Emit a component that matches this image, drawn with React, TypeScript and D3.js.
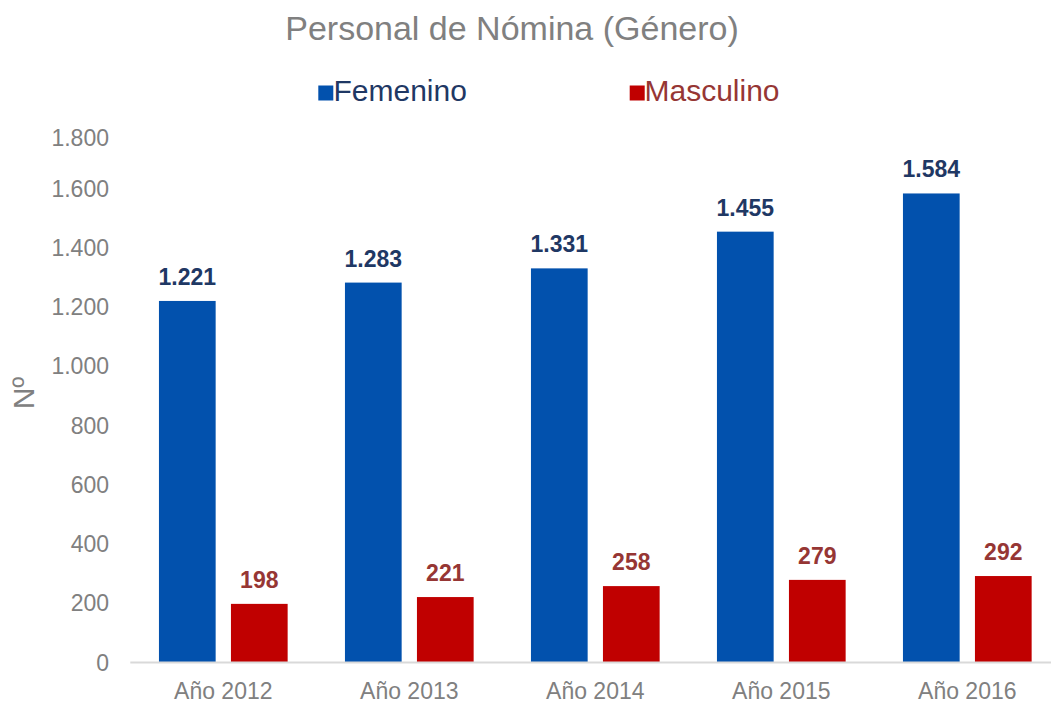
import React from "react";
import * as d3 from "d3";

// data
const years = ["Año 2012", "Año 2013", "Año 2014", "Año 2015", "Año 2016"];
const femenino = [1221, 1283, 1331, 1455, 1584];
const masculino = [198, 221, 258, 279, 292];
const seriesNames = ["Femenino", "Masculino"];
const yTicks = [0, 200, 400, 600, 800, 1000, 1200, 1400, 1600, 1800];

const W = 1051;
const H = 704;
const FONT = "'Liberation Sans', Arial, sans-serif";
const barColors = ["#0251ad", "#c00000"];
const labelColors = ["#1f3864", "#963634"];
const gray = "#808080";

// spanish number format: 1.221
const es = d3.formatLocale({ decimal: ",", thousands: ".", grouping: [3], currency: ["", "€"] });
const fmt = es.format(",");

export default function App() {
  // plot area (last band runs past the right edge, like the original)
  const plot = { left: 130.3, right: 1060.3, top: 129.5, bottom: 662.5 };

  const x = d3.scaleBand().domain(years).range([plot.left, plot.right]).padding(0);

  const xs = d3
    .scaleBand()
    .domain(seriesNames)
    .range([0, x.bandwidth()])
    .paddingInner(0.2125)
    .paddingOuter(0.398);

  const y = d3.scaleLinear().domain([0, 1800]).range([plot.bottom, plot.top]);

  const series = [femenino, masculino];

  return (
    <svg
      width={W}
      height={H}
      style={{ position: "absolute", left: 0, top: 0, background: "#fff" }}
      fontFamily={FONT}
    >
      {/* title */}
      <text x={512} y={40} textAnchor="middle" fontSize={34} fill={gray}>
        Personal de Nómina (Género)
      </text>

      {/* legend */}
      <g>
        <rect x={318.3} y={85.5} width={15} height={15} fill={barColors[0]} />
        <text x={333.5} y={100.7} fontSize={30} fill={labelColors[0]}>
          {seriesNames[0]}
        </text>
        <rect x={629.7} y={85.5} width={15} height={15} fill={barColors[1]} />
        <text x={644.5} y={100.7} fontSize={30} fill={labelColors[1]}>
          {seriesNames[1]}
        </text>
      </g>

      {/* y axis title */}
      <text transform="translate(34,393) rotate(-90)" textAnchor="middle" fontSize={30} fill={gray}>
        Nº
      </text>

      {/* y tick labels (top one pushed down a little, as in the original) */}
      {yTicks.map((t) => (
        <text
          key={t}
          x={109}
          y={Math.max(y(t), 138)}
          dy="0.35em"
          textAnchor="end"
          fontSize={23}
          fill={gray}
        >
          {fmt(t)}
        </text>
      ))}

      {/* bars + data labels */}
      {series.map((vals, si) =>
        vals.map((v, i) => {
          const bx = (x(years[i]) as number) + (xs(seriesNames[si]) as number);
          return (
            <g key={`${si}-${i}`}>
              <rect
                x={bx}
                y={y(v)}
                width={xs.bandwidth()}
                height={y(0) - y(v)}
                fill={barColors[si]}
              />
              <text
                x={bx + xs.bandwidth() / 2}
                y={y(v) - 16}
                textAnchor="middle"
                fontSize={23}
                fontWeight="bold"
                fill={labelColors[si]}
              >
                {fmt(v)}
              </text>
            </g>
          );
        })
      )}

      {/* x axis line */}
      <line x1={plot.left} x2={W} y1={y(0)} y2={y(0)} stroke="#d9d9d9" strokeWidth={2} />

      {/* category labels */}
      {years.map((c) => (
        <text
          key={c}
          x={(x(c) as number) + x.bandwidth() / 2}
          y={699}
          textAnchor="middle"
          fontSize={23}
          fill={gray}
        >
          {c}
        </text>
      ))}
    </svg>
  );
}
